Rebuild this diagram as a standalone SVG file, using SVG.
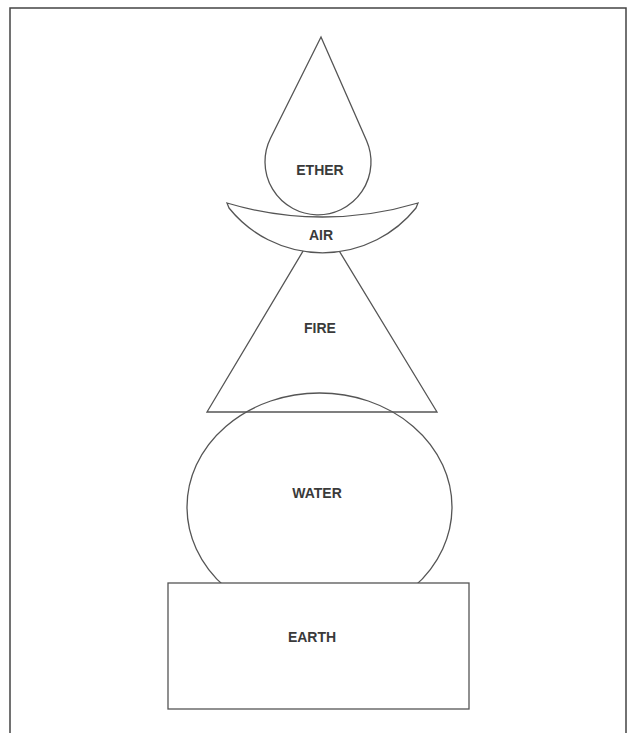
<svg xmlns="http://www.w3.org/2000/svg" width="633" height="733" viewBox="0 0 633 733">
<style>
.s{fill:none;stroke:#555;stroke-width:1.3}
.w{fill:#fff;stroke:#555;stroke-width:1.3}
.t{font-family:"Liberation Sans",Arial,sans-serif;font-size:14px;font-weight:bold;fill:#3a3a3a;text-anchor:middle}
</style>
<rect width="633" height="733" fill="#fff"/>
<path d="M10,740 V8 H626 V740" fill="none" stroke="#444" stroke-width="1.5"/>
<g id="fire">
<polygon class="w" points="207,412 437,412 321,221"/>
<text class="t" x="320" y="333">FIRE</text>
</g>
<g id="water">
<ellipse class="s" cx="319.5" cy="507" rx="132.5" ry="114"/>
</g>
<g id="earth">
<rect class="w" x="168" y="583" width="301" height="126"/>
<text class="t" x="312" y="642">EARTH</text>
</g>
<g id="ether">
<path class="w" d="M321,37 L270.5,138.3 A53,53 0 1 0 366.6,140.7 Z"/>
<text class="t" x="320" y="175">ETHER</text>
</g>
<g id="air">
<path class="w" d="M227,203 A333,333 0 0 0 418,203 L416,208 A120,120 0 0 1 229,208 Z"/>
<text class="t" x="321" y="240">AIR</text>
</g>
<g id="water-label">
<text class="t" x="317" y="498">WATER</text>
</g>
<g id="connectors"/>
</svg>
